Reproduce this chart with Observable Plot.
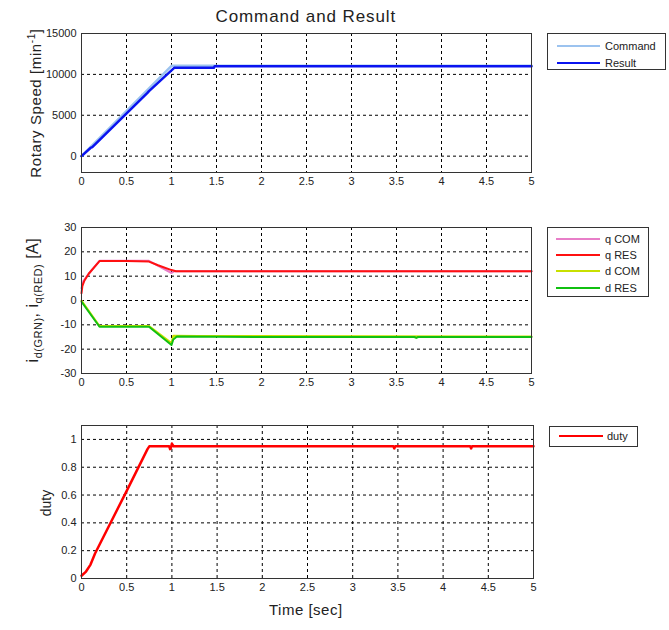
<!DOCTYPE html>
<html>
<head>
<meta charset="utf-8">
<script src="https://cdn.jsdelivr.net/npm/d3@7"></script>
<script src="https://cdn.jsdelivr.net/npm/@observablehq/plot@0.6"></script>
<style>
  html, body { margin: 0; padding: 0; background: #fff; }
  #wrap { position: relative; width: 669px; height: 630px; overflow: hidden; font-family: "Liberation Sans", Arial, sans-serif; color: #222; }
  .pane { position: absolute; left: 0; }
  .lbl { position: absolute; white-space: nowrap; transform-origin: center center; }
  .legend { position: absolute; background: #fff; border: 1px solid #333; box-sizing: border-box; font-size: 11px; }
  .legend .row { position: absolute; left: 0; height: 14px; }
  .legend .sw { position: absolute; top: 6px; }
  .legend .tx { position: absolute; top: 0; line-height: 14px; }
</style>
</head>
<body>
<div id="wrap"></div>
<script>
// ---------- data ----------
const xTicks = [0, 0.5, 1, 1.5, 2, 2.5, 3, 3.5, 4, 4.5, 5];

// Panel 1: rotary speed
const speedTicks = [0, 5000, 10000, 15000];
const cmdT = [0, 1.0, 5];
const cmdV = [0, 11050, 11050];
const resT = [0, 0.1, 0.12, 0.73, 0.75, 1.0, 1.03, 1.47, 1.48, 5];
const resV = [0, 1000, 1100, 7700, 7950, 10500, 10800, 10800, 11000, 11000];

// Panel 2: currents
const curTicks = [-30, -20, -10, 0, 10, 20, 30];
const qComT = [0, 0.02, 0.08, 0.2, 0.75, 1.0, 1.03, 5];
const qComV = [5, 8, 11, 16.3, 16.3, 11.3, 12, 12];
const qResT = [0, 0.01, 0.03, 0.08, 0.2, 0.5, 0.75, 0.85, 1.0, 1.05, 5];
const qResV = [3, 6, 8, 11, 16.2, 16.2, 16, 14.5, 12.5, 12, 12];
const dComT = [0, 0.2, 0.75, 1.0, 1.02, 1.3, 5];
const dComV = [0, -10.5, -10.5, -17.5, -14.5, -14.6, -14.8];
const dResT = [0, 0.2, 0.75, 1.0, 1.02, 1.06, 2, 3.7, 3.72, 3.74, 5];
const dResV = [-0.5, -10.8, -10.8, -18.3, -16, -14.8, -15, -15, -15.4, -15, -15];

// Panel 3: duty
const dutyTicks = [0, 0.2, 0.4, 0.6, 0.8, 1];
const dutyT = [0, 0.05, 0.1, 0.15, 0.5, 0.73, 0.75, 0.97, 0.98, 0.99, 1.0, 1.02, 3.45, 3.46, 3.47, 4.3, 4.31, 4.32, 5];
const dutyV = [0.02, 0.05, 0.1, 0.18, 0.63, 0.93, 0.95, 0.95, 0.93, 0.94, 0.97, 0.95, 0.95, 0.935, 0.95, 0.95, 0.935, 0.95, 0.95];

// ---------- helpers ----------
const pts = (T, V) => T.map((t, i) => ({t, v: V[i]}));
const FONT = "\"Liberation Sans\", Arial, sans-serif";
const fmt = d => String(d);
const grid = (yTicks) => [
  Plot.gridX({ticks: xTicks, stroke: "#000", strokeOpacity: 1, strokeDasharray: "3,3"}),
  Plot.gridY({ticks: yTicks, stroke: "#000", strokeOpacity: 1, strokeDasharray: "3,3"})
];
const axes = (yTicks) => [
  Plot.frame({stroke: "#333", strokeWidth: 1}),
  Plot.axisX({ticks: xTicks, tickFormat: fmt, tickSize: 0, tickPadding: 5, label: null}),
  Plot.axisY({ticks: yTicks, tickFormat: fmt, tickSize: 0, tickPadding: 5, label: null})
];
const base = {width: 669, marginLeft: 81, marginRight: 138, style: {fontSize: "11px", fontFamily: FONT, color: "#222", background: "transparent"}};

const p1 = Plot.plot({
  ...base, height: 197, marginTop: 33, marginBottom: 25,
  x: {domain: [0, 5]}, y: {domain: [-2000, 15000]},
  marks: [
    ...grid(speedTicks),
    Plot.line(pts(cmdT, cmdV), {x: "t", y: "v", stroke: "#9cc3ef", strokeWidth: 2.5}),
    Plot.line(pts(resT, resV), {x: "t", y: "v", stroke: "#0a14f0", strokeWidth: 2.5}),
    ...axes(speedTicks)
  ]
});
const p2 = Plot.plot({
  ...base, height: 198, marginTop: 27, marginBottom: 25,
  x: {domain: [0, 5]}, y: {domain: [-30, 30]},
  marks: [
    ...grid(curTicks),
    Plot.line(pts(qComT, qComV), {x: "t", y: "v", stroke: "#e87ec8", strokeWidth: 2}),
    Plot.line(pts(qResT, qResV), {x: "t", y: "v", stroke: "#ff1010", strokeWidth: 2}),
    Plot.line(pts(dComT, dComV), {x: "t", y: "v", stroke: "#c8e000", strokeWidth: 2}),
    Plot.line(pts(dResT, dResV), {x: "t", y: "v", stroke: "#10c010", strokeWidth: 2}),
    ...axes(curTicks)
  ]
});
const p3 = Plot.plot({
  ...base, marginLeft: 81, marginRight: 136, height: 203, marginTop: 25, marginBottom: 25,
  x: {domain: [0, 5]}, y: {domain: [0, 1.1]},
  marks: [
    ...grid(dutyTicks),
    Plot.line(pts(dutyT, dutyV), {x: "t", y: "v", stroke: "#ff0000", strokeWidth: 2.5}),
    ...axes(dutyTicks)
  ]
});

const wrap = document.getElementById("wrap");
[[p1, 0], [p2, 200], [p3, 400]].forEach(([p, top]) => {
  const d = document.createElement("div");
  d.className = "pane"; d.style.top = top + "px";
  d.appendChild(p);
  wrap.appendChild(d);
});

// ---------- text ----------
function label(html, cx, cy, size, rot, extra) {
  const d = document.createElement("div");
  d.className = "lbl";
  d.innerHTML = html;
  d.style.fontSize = size + "px";
  if (extra) Object.assign(d.style, extra);
  wrap.appendChild(d);
  const w = d.offsetWidth, h = d.offsetHeight;
  d.style.left = (cx - w / 2) + "px";
  d.style.top = (cy - h / 2) + "px";
  if (rot) d.style.transform = "rotate(" + rot + "deg)";
  return d;
}
label("Command and Result", 306, 17, 17, 0, {letterSpacing: "0.9px"});
label("Rotary Speed [min<sup style='font-size:10px;vertical-align:6px'>-1</sup>]", 34, 103, 15, -90, {letterSpacing: "0.6px"});
label("i<sub style='font-size:11px'>d(GRN)</sub>, i<sub style='font-size:11px'>q(RED)</sub> [A]", 34, 300, 16, -90, {letterSpacing: "0.5px"});
label("duty", 46, 503, 14, -90);
label("Time [sec]", 306, 609, 15, 0, {letterSpacing: "0.5px"});

// ---------- legends ----------
const legends = [
  {x: 547, y: 33, w: 119, h: 37, sw0: 9, sw1: 52, tx: 57, rows: [["Command", "#9cc3ef", 5], ["Result", "#0a14f0", 22]]},
  {x: 547, y: 227, w: 102, h: 70, sw0: 8, sw1: 52, tx: 57, rows: [["q COM", "#e87ec8", 4], ["q RES", "#ff1010", 20], ["d COM", "#c8e000", 36], ["d RES", "#10c010", 53]]},
  {x: 549, y: 426, w: 89, h: 21, sw0: 9, sw1: 53, tx: 57, rows: [["duty", "#ff0000", 2]]}
];
legends.forEach(L => {
  const b = document.createElement("div");
  b.className = "legend";
  Object.assign(b.style, {left: L.x + "px", top: L.y + "px", width: L.w + "px", height: L.h + "px"});
  L.rows.forEach(([name, color, ry]) => {
    const r = document.createElement("div");
    r.className = "row"; r.style.top = ry + "px"; r.style.width = L.w + "px";
    const s = document.createElement("div");
    s.className = "sw";
    Object.assign(s.style, {left: L.sw0 + "px", width: (L.sw1 - L.sw0) + "px", height: "0", borderTop: "2.5px solid " + color});
    const t = document.createElement("div");
    t.className = "tx"; t.style.left = L.tx + "px"; t.textContent = name;
    r.appendChild(s); r.appendChild(t); b.appendChild(r);
  });
  wrap.appendChild(b);
});
</script>
</body>
</html>
